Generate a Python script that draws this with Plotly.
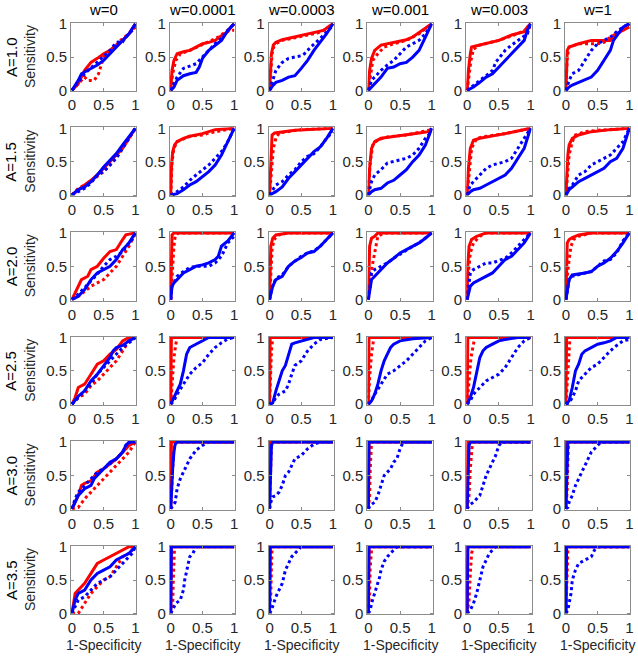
import plotly.graph_objects as go

# ---------------- labels ----------------
col_titles = ["w=0", "w=0.0001", "w=0.0003", "w=0.001", "w=0.003", "w=1"]
row_labels = ["A=1.0", "A=1.5", "A=2.0", "A=2.5", "A=3.0", "A=3.5"]
tick_vals = [0, 0.5, 1]
tick_text = ["0", "0.5", "1"]
x_title = "1-Specificity"
y_title = "Sensitivity"

V = [(0, 0), (0.005, 0.5), (0.01, 1), (1, 1)]  # vertical ROC (perfect)

# ---------------- red solid ----------------
red_solid = [
    [  # A=1.0
        [(0,0),(0.1,0.1),(0.2,0.3),(0.3,0.42),(0.4,0.48),(0.5,0.55),(0.6,0.6),(0.7,0.68),(0.8,0.75),(0.9,0.85),(1,1)],
        [(0,0),(0.02,0.3),(0.05,0.45),(0.1,0.55),(0.2,0.58),(0.3,0.6),(0.4,0.65),(0.5,0.7),(0.6,0.72),(0.7,0.75),(0.8,0.82),(0.9,0.88),(0.95,0.95),(1,1)],
        [(0,0),(0.01,0.3),(0.03,0.55),(0.06,0.68),(0.1,0.72),(0.2,0.76),(0.3,0.78),(0.5,0.82),(0.7,0.86),(0.85,0.9),(0.95,0.97),(1,1)],
        [(0,0),(0.02,0.3),(0.05,0.48),(0.1,0.6),(0.2,0.68),(0.3,0.7),(0.5,0.73),(0.6,0.76),(0.7,0.8),(0.8,0.87),(0.9,0.93),(1,1)],
        [(0,0),(0.02,0.3),(0.05,0.55),(0.07,0.65),(0.15,0.67),(0.3,0.7),(0.5,0.75),(0.7,0.83),(0.9,0.88),(0.95,0.95),(1,1)],
        [(0,0),(0.01,0.3),(0.02,0.6),(0.05,0.65),(0.2,0.7),(0.4,0.75),(0.7,0.75),(0.8,0.85),(0.9,0.9),(1,0.95)],
    ],
    [  # A=1.5
        [(0,0),(0.1,0.08),(0.2,0.15),(0.3,0.22),(0.4,0.3),(0.5,0.4),(0.6,0.5),(0.7,0.6),(0.8,0.7),(0.9,0.85),(1,1)],
        [(0,0),(0.01,0.4),(0.03,0.65),(0.06,0.75),(0.1,0.8),(0.2,0.85),(0.3,0.88),(0.5,0.92),(0.7,0.98),(1,1)],
        [(0,0),(0.02,0.6),(0.04,0.9),(0.08,0.93),(0.4,0.97),(1,1)],
        [(0,0),(0.02,0.4),(0.05,0.7),(0.1,0.8),(0.2,0.85),(0.4,0.88),(0.6,0.9),(0.8,0.93),(0.95,0.95),(1,1)],
        [(0,0),(0.02,0.4),(0.05,0.7),(0.1,0.82),(0.2,0.85),(0.4,0.88),(0.6,0.92),(0.8,0.96),(1,1)],
        [(0,0),(0.01,0.3),(0.03,0.6),(0.05,0.75),(0.1,0.85),(0.2,0.9),(0.4,0.95),(0.7,0.98),(1,1)],
    ],
    [  # A=2.0
        [(0,0),(0.05,0.1),(0.1,0.2),(0.15,0.3),(0.25,0.35),(0.3,0.45),(0.4,0.5),(0.5,0.62),(0.6,0.72),(0.7,0.75),(0.8,0.9),(0.85,0.97),(1,1)],
        [(0,0),(0.01,0.6),(0.02,0.97),(0.05,1),(1,1)],
        [(0,0),(0.01,0.5),(0.02,0.8),(0.05,0.92),(0.1,0.97),(0.3,1),(1,1)],
        [(0,0),(0.01,0.5),(0.02,0.8),(0.05,0.92),(0.1,0.95),(0.15,1),(1,1)],
        [(0,0),(0.01,0.5),(0.03,0.8),(0.07,0.9),(0.15,0.95),(0.3,1),(1,1)],
        [(0,0),(0.01,0.5),(0.02,0.85),(0.05,0.9),(0.1,0.93),(0.2,0.97),(0.4,1),(1,1)],
    ],
    [  # A=2.5
        [(0,0),(0.05,0.1),(0.1,0.25),(0.2,0.3),(0.3,0.45),(0.4,0.6),(0.5,0.65),(0.6,0.75),(0.7,0.82),(0.8,0.95),(0.9,1),(1,1)],
        V, V, V, V, V,
    ],
    [  # A=3.0
        [(0,0),(0.05,0.1),(0.1,0.2),(0.15,0.35),(0.2,0.38),(0.3,0.42),(0.4,0.55),(0.5,0.6),(0.6,0.68),(0.7,0.75),(0.8,0.85),(0.9,0.95),(1,1)],
        V, V, V, V, V,
    ],
    [  # A=3.5
        [(0,0),(0.03,0.2),(0.05,0.3),(0.1,0.35),(0.2,0.45),(0.3,0.6),(0.4,0.75),(0.5,0.8),(0.6,0.85),(0.7,0.9),(0.8,0.95),(0.9,1),(1,1)],
        V, V, V, V, V,
    ],
]

# ---------------- red dotted ----------------
red_dotted = [
    [
        [(0,0),(0.1,0.1),(0.2,0.2),(0.25,0.15),(0.35,0.15),(0.42,0.25),(0.45,0.35),(0.5,0.5),(0.6,0.6),(0.7,0.68),(0.8,0.78),(0.9,0.85),(1,0.95)],
        [(0,0),(0.03,0.25),(0.08,0.45),(0.15,0.55),(0.3,0.6),(0.5,0.68),(0.6,0.73),(0.75,0.8),(0.9,0.9),(1,0.9)],
        [(0,0),(0.02,0.3),(0.04,0.55),(0.07,0.66),(0.12,0.71),(0.2,0.75),(0.35,0.78),(0.55,0.82),(0.75,0.86),(0.9,0.92),(1,1)],
        [(0,0),(0.03,0.2),(0.07,0.45),(0.15,0.55),(0.25,0.65),(0.4,0.7),(0.6,0.75),(0.8,0.85),(1,1)],
        [(0,0),(0.03,0.2),(0.06,0.45),(0.1,0.62),(0.2,0.68),(0.5,0.75),(0.8,0.85),(1,0.95)],
        [(0,0),(0.02,0.5),(0.05,0.65),(0.2,0.7),(0.3,0.7),(0.5,0.7),(0.6,0.72),(0.7,0.8),(0.8,0.85),(0.9,0.9),(1,1)],
    ],
    [
        [(0,0),(0.1,0.1),(0.2,0.15),(0.3,0.2),(0.4,0.28),(0.5,0.35),(0.6,0.45),(0.7,0.6),(0.8,0.72),(0.9,0.85),(1,1)],
        [(0,0),(0.02,0.5),(0.05,0.7),(0.1,0.8),(0.3,0.88),(0.5,0.9),(0.6,0.93),(0.7,0.95),(1,1)],
        [(0,0),(0.03,0.4),(0.06,0.7),(0.1,0.85),(0.15,0.93),(0.5,0.98),(1,1)],
        [(0,0),(0.03,0.5),(0.07,0.75),(0.15,0.83),(0.3,0.87),(0.6,0.9),(1,0.98)],
        [(0,0),(0.03,0.35),(0.07,0.7),(0.15,0.85),(0.3,0.88),(0.6,0.92),(1,1)],
        [(0,0),(0.02,0.25),(0.05,0.6),(0.1,0.8),(0.15,0.9),(0.3,0.95),(0.5,0.97),(1,1)],
    ],
    [
        [(0,0),(0.1,0.05),(0.2,0.12),(0.3,0.2),(0.4,0.25),(0.5,0.3),(0.6,0.4),(0.7,0.5),(0.8,0.65),(0.9,0.8),(1,1)],
        [(0,0),(0.02,0.4),(0.05,0.8),(0.07,0.95),(0.12,1),(1,1)],
        [(0,0),(0.02,0.4),(0.04,0.75),(0.07,0.9),(0.15,0.97),(0.3,1),(1,1)],
        [(0,0),(0.03,0.2),(0.06,0.5),(0.1,0.7),(0.12,0.85),(0.15,0.95),(0.25,1),(1,1)],
        [(0,0),(0.02,0.4),(0.05,0.7),(0.1,0.85),(0.2,0.95),(0.3,1),(1,1)],
        [(0,0),(0.02,0.35),(0.05,0.6),(0.08,0.8),(0.12,0.9),(0.2,0.95),(0.4,1),(1,1)],
    ],
    [
        [(0,0),(0.1,0.1),(0.2,0.15),(0.3,0.28),(0.4,0.35),(0.5,0.45),(0.6,0.55),(0.7,0.65),(0.8,0.8),(0.9,0.95),(1,1)],
        [(0,0),(0.03,0.4),(0.05,0.7),(0.08,0.9),(0.1,1),(1,1)],
        [(0,0),(0.01,0.4),(0.03,0.8),(0.05,1),(1,1)],
        [(0,0),(0.02,0.4),(0.05,0.75),(0.08,0.95),(0.1,1),(1,1)],
        [(0,0),(0.03,0.4),(0.06,0.7),(0.1,0.9),(0.12,1),(1,1)],
        [(0,0),(0.02,0.3),(0.04,0.7),(0.06,0.95),(0.08,1),(1,1)],
    ],
    [
        [(0,0),(0.1,0.02),(0.2,0.15),(0.3,0.25),(0.4,0.35),(0.5,0.45),(0.6,0.55),(0.7,0.65),(0.8,0.75),(0.9,0.85),(1,1)],
        [(0,0),(0.02,0.5),(0.04,0.8),(0.06,0.95),(0.07,1),(1,1)],
        [(0,0),(0.01,0.3),(0.02,0.7),(0.03,1),(1,1)],
        [(0,0),(0.02,0.2),(0.03,0.6),(0.04,0.95),(0.05,1),(1,1)],
        [(0,0),(0.03,0.2),(0.05,0.6),(0.08,0.95),(0.1,1),(1,1)],
        [(0,0),(0.02,0.3),(0.03,0.7),(0.04,1),(1,1)],
    ],
    [
        [(0,0),(0.1,0.0),(0.2,0.15),(0.3,0.3),(0.4,0.4),(0.5,0.5),(0.6,0.55),(0.7,0.7),(0.8,0.85),(0.9,0.9),(1,1)],
        [(0,0),(0.03,0.1),(0.04,0.5),(0.05,0.95),(0.06,1),(1,1)],
        [(0,0),(0.02,0.3),(0.03,0.7),(0.04,1),(1,1)],
        [(0,0),(0.02,0.3),(0.03,0.7),(0.05,0.95),(0.08,1),(1,1)],
        [(0,0),(0.03,0.2),(0.05,0.6),(0.07,0.9),(0.1,1),(1,1)],
        [(0,0),(0.01,0.3),(0.02,0.8),(0.03,0.95),(0.05,1),(1,1)],
    ],
]

# ---------------- blue solid ----------------
blue_solid = [
    [
        [(0,0),(0.1,0.15),(0.15,0.25),(0.3,0.33),(0.4,0.38),(0.5,0.45),(0.6,0.55),(0.7,0.65),(0.8,0.75),(0.9,0.85),(1,1)],
        [(0,0),(0.05,0.05),(0.1,0.15),(0.2,0.22),(0.3,0.25),(0.4,0.27),(0.45,0.35),(0.5,0.48),(0.6,0.6),(0.7,0.68),(0.8,0.75),(0.9,0.9),(1,1)],
        [(0,0),(0.05,0.07),(0.1,0.12),(0.2,0.15),(0.3,0.2),(0.4,0.22),(0.5,0.33),(0.6,0.45),(0.7,0.6),(0.8,0.72),(0.9,0.85),(1,1)],
        [(0,0),(0.05,0.05),(0.1,0.1),(0.2,0.2),(0.3,0.33),(0.4,0.35),(0.5,0.4),(0.6,0.42),(0.7,0.5),(0.8,0.6),(0.9,0.8),(1,1)],
        [(0,0),(0.1,0.05),(0.2,0.12),(0.3,0.2),(0.4,0.25),(0.5,0.35),(0.6,0.45),(0.7,0.55),(0.8,0.65),(0.9,0.75),(0.95,0.9),(1,1)],
        [(0,0),(0.05,0.05),(0.1,0.08),(0.2,0.12),(0.3,0.15),(0.4,0.2),(0.5,0.3),(0.6,0.45),(0.7,0.6),(0.75,0.75),(0.8,0.82),(0.9,0.95),(1,1)],
    ],
    [
        [(0,0),(0.1,0.08),(0.2,0.12),(0.3,0.2),(0.4,0.3),(0.5,0.42),(0.6,0.52),(0.7,0.62),(0.8,0.75),(0.9,0.88),(1,1)],
        [(0,0),(0.1,0.02),(0.2,0.08),(0.3,0.15),(0.4,0.2),(0.5,0.27),(0.6,0.35),(0.7,0.45),(0.8,0.6),(0.9,0.8),(1,1)],
        [(0,0),(0.1,0.05),(0.2,0.12),(0.3,0.25),(0.4,0.35),(0.5,0.45),(0.6,0.55),(0.7,0.65),(0.8,0.72),(0.9,0.85),(1,1)],
        [(0,0),(0.05,0.05),(0.1,0.08),(0.2,0.1),(0.3,0.18),(0.4,0.22),(0.5,0.3),(0.6,0.38),(0.7,0.5),(0.8,0.6),(0.9,0.75),(0.95,0.88),(1,1)],
        [(0,0),(0.05,0.05),(0.1,0.08),(0.2,0.1),(0.3,0.15),(0.4,0.2),(0.5,0.25),(0.6,0.3),(0.7,0.4),(0.8,0.55),(0.9,0.7),(0.95,0.85),(1,1)],
        [(0,0),(0.05,0.08),(0.1,0.12),(0.2,0.2),(0.3,0.25),(0.4,0.3),(0.5,0.35),(0.6,0.4),(0.7,0.5),(0.8,0.55),(0.9,0.7),(0.95,0.85),(1,1)],
    ],
    [
        [(0,0),(0.1,0.05),(0.2,0.15),(0.3,0.3),(0.4,0.4),(0.5,0.45),(0.6,0.5),(0.7,0.6),(0.8,0.75),(0.9,0.85),(1,1)],
        [(0,0),(0.02,0.2),(0.05,0.25),(0.1,0.3),(0.2,0.4),(0.3,0.45),(0.4,0.5),(0.5,0.52),(0.6,0.55),(0.7,0.6),(0.75,0.65),(0.8,0.8),(0.9,0.88),(1,1)],
        [(0,0),(0.02,0.1),(0.05,0.2),(0.1,0.3),(0.2,0.35),(0.3,0.5),(0.4,0.58),(0.5,0.63),(0.6,0.7),(0.7,0.72),(0.8,0.8),(0.9,0.9),(1,1)],
        [(0,0),(0.03,0.2),(0.05,0.3),(0.1,0.35),(0.2,0.45),(0.3,0.55),(0.4,0.62),(0.5,0.7),(0.6,0.75),(0.7,0.8),(0.8,0.85),(0.9,0.92),(1,1)],
        [(0,0),(0.03,0.15),(0.05,0.2),(0.1,0.25),(0.2,0.3),(0.3,0.35),(0.4,0.4),(0.5,0.5),(0.6,0.6),(0.7,0.65),(0.8,0.75),(0.9,0.85),(1,1)],
        [(0,0),(0.02,0.15),(0.05,0.3),(0.1,0.37),(0.2,0.38),(0.3,0.4),(0.4,0.42),(0.5,0.5),(0.6,0.55),(0.7,0.62),(0.8,0.72),(0.9,0.85),(1,1)],
    ],
    [
        [(0,0),(0.1,0.12),(0.2,0.2),(0.3,0.35),(0.4,0.45),(0.5,0.58),(0.6,0.7),(0.65,0.8),(0.7,0.85),(0.8,0.88),(0.9,0.95),(1,1)],
        [(0,0),(0.05,0.1),(0.1,0.2),(0.15,0.3),(0.2,0.5),(0.25,0.75),(0.3,0.85),(0.4,0.9),(0.5,0.95),(0.6,1),(1,1)],
        [(0,0),(0.05,0.02),(0.1,0.2),(0.15,0.35),(0.2,0.5),(0.25,0.58),(0.3,0.75),(0.35,0.9),(0.4,0.92),(0.5,0.95),(0.7,1),(1,1)],
        [(0,0),(0.05,0.05),(0.1,0.15),(0.15,0.3),(0.2,0.5),(0.25,0.65),(0.3,0.75),(0.35,0.85),(0.4,0.9),(0.5,0.95),(0.7,0.98),(0.9,1),(1,1)],
        [(0,0),(0.05,0.1),(0.1,0.25),(0.15,0.5),(0.2,0.7),(0.25,0.8),(0.3,0.85),(0.4,0.9),(0.5,0.95),(0.6,0.97),(0.8,1),(1,1)],
        [(0,0),(0.05,0.05),(0.1,0.25),(0.15,0.5),(0.2,0.6),(0.25,0.75),(0.3,0.8),(0.4,0.85),(0.5,0.9),(0.6,0.92),(0.7,0.95),(0.8,1),(1,1)],
    ],
    [
        [(0,0),(0.05,0.1),(0.1,0.2),(0.2,0.3),(0.3,0.35),(0.35,0.45),(0.4,0.5),(0.5,0.6),(0.6,0.7),(0.7,0.75),(0.8,0.85),(0.85,0.95),(0.9,1),(1,1)],
        [(0,0),(0.01,0.3),(0.03,0.6),(0.05,0.85),(0.07,0.97),(0.1,1),(1,1)],
        [(0,0),(0.01,0.3),(0.02,0.7),(0.03,0.95),(0.05,1),(1,1)],
        V,
        [(0,0),(0.01,0.4),(0.02,0.8),(0.03,0.95),(0.05,1),(1,1)],
        [(0,0),(0.01,0.4),(0.02,0.8),(0.03,1),(1,1)],
    ],
    [
        [(0,0),(0.05,0.2),(0.1,0.3),(0.2,0.35),(0.3,0.5),(0.4,0.6),(0.5,0.65),(0.6,0.7),(0.7,0.8),(0.8,0.85),(0.9,0.9),(1,1)],
        V, V, V, V, V,
    ],
]

# ---------------- blue dotted ----------------
blue_dotted = [
    [
        [(0,0),(0.1,0.12),(0.2,0.25),(0.35,0.38),(0.5,0.52),(0.6,0.6),(0.7,0.72),(0.8,0.73),(0.85,0.8),(0.95,0.9),(1,1)],
        [(0,0),(0.05,0.1),(0.1,0.2),(0.2,0.33),(0.3,0.37),(0.4,0.4),(0.5,0.5),(0.6,0.6),(0.7,0.7),(0.8,0.78),(0.9,0.9),(1,1)],
        [(0,0),(0.05,0.15),(0.1,0.3),(0.2,0.42),(0.3,0.48),(0.4,0.5),(0.5,0.52),(0.55,0.55),(0.65,0.65),(0.8,0.78),(0.9,0.88),(1,0.97)],
        [(0,0),(0.05,0.15),(0.1,0.2),(0.2,0.3),(0.3,0.38),(0.4,0.45),(0.5,0.55),(0.6,0.65),(0.7,0.7),(0.8,0.75),(0.9,0.85),(1,1)],
        [(0,0),(0.1,0.08),(0.2,0.15),(0.3,0.22),(0.4,0.3),(0.45,0.42),(0.5,0.48),(0.6,0.6),(0.7,0.68),(0.8,0.75),(0.9,0.82),(0.95,0.85),(1,1)],
        [(0,0),(0.05,0.15),(0.1,0.25),(0.2,0.3),(0.3,0.45),(0.4,0.6),(0.5,0.7),(0.6,0.75),(0.7,0.8),(0.8,0.88),(0.9,0.95),(1,1)],
    ],
    [
        [(0,0),(0.1,0.05),(0.2,0.1),(0.3,0.18),(0.4,0.3),(0.5,0.35),(0.6,0.45),(0.7,0.55),(0.8,0.7),(0.9,0.85),(1,1)],
        [(0,0),(0.1,0.05),(0.2,0.12),(0.3,0.22),(0.4,0.3),(0.5,0.37),(0.6,0.45),(0.7,0.55),(0.8,0.65),(0.9,0.8),(1,1)],
        [(0,0),(0.1,0.15),(0.2,0.2),(0.3,0.3),(0.4,0.38),(0.5,0.5),(0.6,0.58),(0.7,0.62),(0.8,0.72),(0.9,0.85),(1,0.95)],
        [(0,0),(0.05,0.2),(0.1,0.3),(0.2,0.38),(0.3,0.48),(0.4,0.5),(0.5,0.52),(0.6,0.55),(0.7,0.6),(0.8,0.7),(0.9,0.85),(1,0.95)],
        [(0,0),(0.05,0.15),(0.1,0.2),(0.2,0.3),(0.3,0.4),(0.4,0.45),(0.5,0.47),(0.6,0.5),(0.7,0.55),(0.8,0.7),(0.9,0.85),(1,1)],
        [(0,0),(0.05,0.1),(0.1,0.15),(0.2,0.3),(0.3,0.35),(0.4,0.45),(0.5,0.5),(0.6,0.55),(0.7,0.6),(0.8,0.7),(0.9,0.8),(1,1)],
    ],
    [
        [(0,0),(0.1,0.08),(0.2,0.18),(0.3,0.28),(0.4,0.38),(0.5,0.5),(0.6,0.6),(0.7,0.65),(0.8,0.72),(0.9,0.85),(1,0.95)],
        [(0,0),(0.02,0.2),(0.05,0.25),(0.1,0.35),(0.2,0.42),(0.3,0.48),(0.4,0.5),(0.5,0.5),(0.6,0.5),(0.7,0.55),(0.8,0.65),(0.9,0.85),(1,0.95)],
        [(0,0),(0.03,0.15),(0.1,0.32),(0.2,0.37),(0.3,0.5),(0.4,0.57),(0.5,0.65),(0.6,0.7),(0.7,0.73),(0.8,0.8),(0.9,0.9),(1,1)],
        [(0,0),(0.03,0.3),(0.05,0.4),(0.1,0.45),(0.2,0.5),(0.3,0.55),(0.4,0.62),(0.5,0.68),(0.6,0.75),(0.7,0.8),(0.8,0.85),(0.9,0.93),(1,1)],
        [(0,0),(0.03,0.3),(0.05,0.4),(0.1,0.45),(0.2,0.5),(0.3,0.55),(0.4,0.55),(0.5,0.58),(0.6,0.62),(0.7,0.7),(0.8,0.8),(0.9,0.9),(1,1)],
        [(0,0),(0.02,0.1),(0.05,0.3),(0.1,0.35),(0.2,0.38),(0.3,0.4),(0.4,0.42),(0.5,0.5),(0.6,0.58),(0.7,0.6),(0.8,0.7),(0.9,0.88),(1,1)],
    ],
    [
        [(0,0),(0.1,0.1),(0.2,0.2),(0.3,0.3),(0.4,0.45),(0.5,0.55),(0.6,0.65),(0.7,0.75),(0.8,0.85),(0.9,0.92),(1,1)],
        [(0,0),(0.05,0.05),(0.1,0.15),(0.2,0.3),(0.3,0.45),(0.4,0.55),(0.5,0.62),(0.6,0.75),(0.7,0.85),(0.8,0.92),(0.9,0.98),(1,1)],
        [(0,0),(0.05,0.02),(0.1,0.1),(0.15,0.15),(0.25,0.2),(0.3,0.3),(0.35,0.45),(0.4,0.58),(0.5,0.65),(0.6,0.8),(0.7,0.9),(0.8,0.97),(1,1)],
        [(0,0),(0.05,0.05),(0.1,0.15),(0.2,0.3),(0.3,0.45),(0.4,0.5),(0.5,0.58),(0.6,0.65),(0.7,0.75),(0.8,0.85),(0.9,0.95),(1,1)],
        [(0,0),(0.05,0.05),(0.1,0.15),(0.2,0.25),(0.3,0.35),(0.4,0.4),(0.5,0.45),(0.6,0.55),(0.7,0.7),(0.8,0.85),(0.9,0.95),(1,1)],
        [(0,0),(0.05,0.02),(0.1,0.1),(0.15,0.2),(0.2,0.35),(0.3,0.45),(0.4,0.55),(0.5,0.6),(0.6,0.7),(0.7,0.8),(0.8,0.88),(0.9,0.95),(1,0.97)],
    ],
    [
        [(0,0),(0.05,0.15),(0.1,0.25),(0.2,0.35),(0.3,0.45),(0.4,0.55),(0.5,0.6),(0.6,0.68),(0.7,0.75),(0.8,0.85),(0.85,0.95),(0.9,1),(1,1)],
        [(0,0),(0.03,0.05),(0.07,0.1),(0.1,0.3),(0.15,0.45),(0.2,0.55),(0.25,0.65),(0.3,0.75),(0.4,0.88),(0.5,0.95),(0.6,1),(1,1)],
        [(0,0),(0.02,0.1),(0.05,0.18),(0.1,0.2),(0.15,0.25),(0.2,0.35),(0.25,0.5),(0.3,0.55),(0.35,0.65),(0.4,0.75),(0.5,0.8),(0.6,0.9),(0.7,0.97),(0.8,1),(1,1)],
        [(0,0),(0.03,0.05),(0.1,0.1),(0.15,0.2),(0.2,0.35),(0.25,0.5),(0.3,0.55),(0.35,0.6),(0.4,0.7),(0.45,0.75),(0.5,0.9),(0.55,1),(1,1)],
        [(0,0),(0.03,0.05),(0.1,0.1),(0.15,0.15),(0.2,0.2),(0.25,0.35),(0.3,0.5),(0.35,0.6),(0.4,0.7),(0.45,0.8),(0.5,0.95),(0.55,1),(1,1)],
        [(0,0),(0.03,0.02),(0.05,0.1),(0.1,0.2),(0.15,0.35),(0.2,0.45),(0.25,0.55),(0.3,0.65),(0.35,0.75),(0.4,0.85),(0.45,0.9),(0.5,0.95),(0.55,1),(1,1)],
    ],
    [
        [(0,0),(0.05,0.1),(0.1,0.2),(0.2,0.25),(0.3,0.35),(0.4,0.45),(0.5,0.5),(0.6,0.55),(0.7,0.65),(0.8,0.75),(0.9,0.85),(0.95,0.9),(1,1)],
        [(0,0),(0.03,0.05),(0.08,0.15),(0.15,0.2),(0.2,0.35),(0.22,0.5),(0.25,0.65),(0.3,0.85),(0.35,0.9),(0.4,1),(1,1)],
        [(0,0),(0.03,0.05),(0.1,0.25),(0.15,0.35),(0.2,0.45),(0.25,0.65),(0.3,0.75),(0.35,0.85),(0.4,0.9),(0.45,0.95),(0.5,1),(1,1)],
        [(0,0),(0.03,0.05),(0.05,0.15),(0.1,0.3),(0.15,0.45),(0.18,0.55),(0.2,0.65),(0.25,0.78),(0.3,0.85),(0.35,0.9),(0.4,0.95),(0.45,1),(1,1)],
        [(0,0),(0.05,0.05),(0.1,0.15),(0.15,0.3),(0.2,0.5),(0.25,0.7),(0.3,0.8),(0.35,0.9),(0.4,0.95),(0.45,1),(1,1)],
        [(0,0),(0.03,0.05),(0.05,0.15),(0.08,0.3),(0.1,0.5),(0.15,0.65),(0.2,0.75),(0.3,0.8),(0.35,0.82),(0.4,0.85),(0.45,0.95),(0.5,1),(1,1)],
    ],
]

RED = "#ff0000"
BLUE = "#0000ff"
FONT = "Liberation Sans, Arial, Helvetica, sans-serif"
W, H = 638, 660

# layout geometry (pixels)
COL_LEFT0, COL_STEP, BOX_W = 71.0, 98.8, 65.3
ROW_TOP0, ROW_STEP, BOX_H = 22.7, 104.6, 68.7

series_list = [
    (red_solid, RED, "solid"),
    (red_dotted, RED, "dot"),
    (blue_solid, BLUE, "solid"),
    (blue_dotted, BLUE, "dot"),
]

fig = go.Figure()
layout = {}
annotations = []
for r in range(6):
    for c in range(6):
        k = r * 6 + c + 1
        xs = "" if k == 1 else str(k)
        for data, color, dash in series_list:
            pts = data[r][c]
            fig.add_trace(go.Scatter(
                x=[p[0] for p in pts], y=[p[1] for p in pts],
                mode="lines", line=dict(color=color, width=3, dash=dash),
                xaxis="x" + xs, yaxis="y" + xs,
                showlegend=False, hoverinfo="skip",
            ))
        x0 = COL_LEFT0 + c * COL_STEP
        y0 = ROW_TOP0 + r * ROW_STEP
        axis_common = dict(
            range=[-0.015, 1.015], showgrid=False, zeroline=False, automargin=False,
            showline=True, mirror="ticks", linecolor="#8c8c8c", linewidth=1,
            ticks="inside", ticklen=3, tickcolor="#8c8c8c",
            tickvals=tick_vals, ticktext=tick_text,
            tickfont=dict(family=FONT, size=15, color="#262626"),
            fixedrange=True,
        )
        layout["xaxis" + xs] = dict(axis_common, domain=[x0 / W, (x0 + BOX_W) / W],
                                    anchor="y" + xs)
        layout["yaxis" + xs] = dict(axis_common, domain=[1 - (y0 + BOX_H) / H, 1 - y0 / H],
                                    anchor="x" + xs)

# column titles
for c, t in enumerate(col_titles):
    xc = COL_LEFT0 + c * COL_STEP + BOX_W / 2
    annotations.append(dict(text=t, x=xc / W, y=1 - 10 / H, xref="paper", yref="paper",
                            showarrow=False, font=dict(family=FONT, size=15, color="#000"),
                            xanchor="center", yanchor="middle"))
# row labels + Sensitivity
for r, t in enumerate(row_labels):
    yc = ROW_TOP0 + r * ROW_STEP + BOX_H / 2
    annotations.append(dict(text=t, x=11 / W, y=1 - yc / H, xref="paper", yref="paper",
                            showarrow=False, textangle=-90,
                            font=dict(family=FONT, size=15, color="#000"),
                            xanchor="center", yanchor="middle"))
    annotations.append(dict(text=y_title, x=30 / W, y=1 - yc / H, xref="paper", yref="paper",
                            showarrow=False, textangle=-90,
                            font=dict(family=FONT, size=14, color="#262626"),
                            xanchor="center", yanchor="middle"))
# bottom x titles
for c in range(6):
    xc = COL_LEFT0 + c * COL_STEP + BOX_W / 2
    annotations.append(dict(text=x_title, x=xc / W, y=1 - 645 / H, xref="paper", yref="paper",
                            showarrow=False, font=dict(family=FONT, size=14, color="#262626"),
                            xanchor="center", yanchor="middle"))

fig.update_layout(
    template="none",
    width=W, height=H, margin=dict(l=0, r=0, t=0, b=0, pad=0, autoexpand=False),
    paper_bgcolor="white", plot_bgcolor="white",
    annotations=annotations, **layout,
)
fig.write_html("out.html", config={"displayModeBar": False},
               post_script="document.body.style.margin='0';document.body.style.overflow='hidden';")
